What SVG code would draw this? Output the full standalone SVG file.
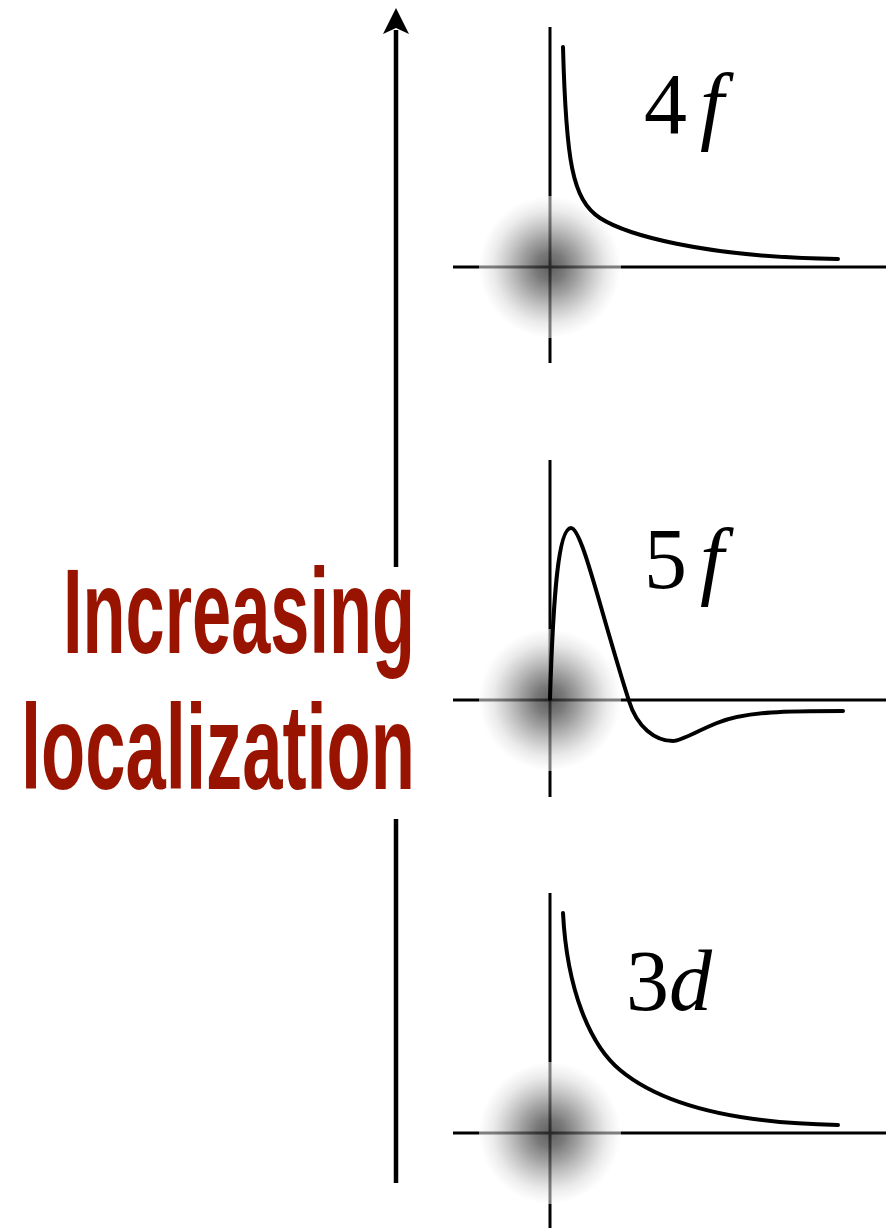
<svg xmlns="http://www.w3.org/2000/svg" width="886" height="1231" viewBox="0 0 886 1231">
<style>
.axis{stroke:#000;stroke-width:3;fill:none}
.curve{stroke:#000;stroke-width:4;fill:none;stroke-linecap:round;stroke-linejoin:round}
.lbl{font-family:"Liberation Serif","Times New Roman",serif;font-size:86px;fill:#000}
.it{font-style:italic}
.big{font-family:"Liberation Sans",Arial,sans-serif;font-weight:bold;font-size:120px;fill:#991400}
.blob{fill:url(#glow)}
</style>
<defs>
<radialGradient id="glow" cx="0.5" cy="0.5" r="0.5">
<stop offset="0" stop-color="#323232" stop-opacity="0.78"/>
<stop offset="0.2" stop-color="#494949" stop-opacity="0.74"/>
<stop offset="0.4" stop-color="#737373" stop-opacity="0.68"/>
<stop offset="0.6" stop-color="#a6a6a6" stop-opacity="0.62"/>
<stop offset="0.8" stop-color="#dbdbdb" stop-opacity="0.56"/>
<stop offset="1" stop-color="#ffffff" stop-opacity="0.5"/>
</radialGradient>
</defs>
<g id="connectors">
<line x1="396" y1="30" x2="396" y2="567" stroke="#000" stroke-width="4.5"/>
<line x1="396" y1="819" x2="396" y2="1183" stroke="#000" stroke-width="4.5"/>
<polygon points="396,8 383,34 396,28 409,34" fill="#000"/>
</g>
<g id="label-localization">
<text class="big" transform="translate(63,653) scale(0.6,1)" x="0" y="0" textLength="586.7" lengthAdjust="spacingAndGlyphs">Increasing</text>
<text class="big" transform="translate(21,789) scale(0.6,1)" x="0" y="0" textLength="656.7" lengthAdjust="spacingAndGlyphs">localization</text>
</g>
<g id="plot-4f">
<line class="axis" x1="550" y1="27" x2="550" y2="363"/>
<line class="axis" x1="453" y1="267" x2="886" y2="267"/>
<circle class="blob" cx="550" cy="267" r="71"/>
<path class="curve" d="M563,47 C566,160 572,200 600,218 C625,234 700,257 838,259"/>
<text class="lbl" x="644" y="133">4</text>
<text class="lbl it" x="700" y="133">f</text>
</g>
<g id="plot-5f">
<line class="axis" x1="550" y1="460" x2="550" y2="797"/>
<line class="axis" x1="453" y1="700" x2="886" y2="700"/>
<circle class="blob" cx="550" cy="700" r="71"/>
<path class="curve" d="M550,699 C553,600 558,528 571,528 C582,528 600,610 629,701 C637,727 655,741 673,741 C681,741 697,731 717,723 C747,711 790,711 843,711"/>
<text class="lbl" x="644" y="588">5</text>
<text class="lbl it" x="700" y="588">f</text>
</g>
<g id="plot-3d">
<line class="axis" x1="550" y1="893" x2="550" y2="1228"/>
<line class="axis" x1="453" y1="1133" x2="886" y2="1133"/>
<circle class="blob" cx="550" cy="1133" r="71"/>
<path class="curve" d="M563,913 C567,990 590,1045 620,1070 C656,1100 720,1123 838,1125"/>
<text class="lbl" x="626" y="1010">3<tspan class="it">d</tspan></text>
</g>
</svg>
